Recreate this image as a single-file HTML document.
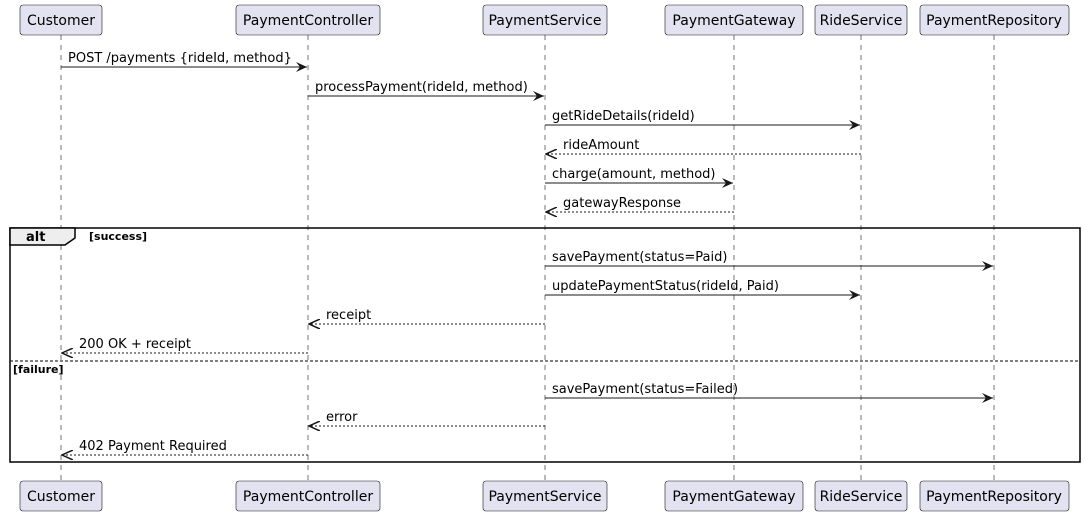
<!DOCTYPE html>
<html><head><style>body{margin:0;background:#fff}svg{display:block}</style></head><body>
<svg width="1086" height="515" xmlns="http://www.w3.org/2000/svg" font-family="DejaVu Sans, sans-serif">
<defs>
<marker id="a" viewBox="0 0 12 10" refX="11" refY="5" markerWidth="12" markerHeight="10" markerUnits="userSpaceOnUse" orient="auto"><path d="M0,0 L11,5 L0,10 L4,5 Z" fill="#181818"/></marker>
<marker id="o" viewBox="0 0 12 10" refX="11" refY="5" markerWidth="12" markerHeight="10" markerUnits="userSpaceOnUse" orient="auto"><path d="M0,0 L11,5 L0,10" fill="none" stroke="#181818" stroke-width="1.5"/></marker>
</defs>
<g stroke="#181818" stroke-width="0.6" stroke-dasharray="5,5">
<line x1="61" y1="35" x2="61" y2="481"/><line x1="308" y1="35" x2="308" y2="481"/><line x1="545" y1="35" x2="545" y2="481"/><line x1="734" y1="35" x2="734" y2="481"/><line x1="861" y1="35" x2="861" y2="481"/><line x1="994" y1="35" x2="994" y2="481"/>
</g>
<g fill="#E2E2F0" stroke="#181818" stroke-width="0.6">
<rect x="20" y="5" width="82" height="30" rx="3"/><rect x="236" y="5" width="144" height="30" rx="3"/><rect x="483" y="5" width="124" height="30" rx="3"/><rect x="665" y="5" width="138" height="30" rx="3"/><rect x="815" y="5" width="92" height="30" rx="3"/><rect x="920" y="5" width="149" height="30" rx="3"/>
<rect x="20" y="481" width="82" height="30" rx="3"/><rect x="236" y="481" width="144" height="30" rx="3"/><rect x="483" y="481" width="124" height="30" rx="3"/><rect x="665" y="481" width="138" height="30" rx="3"/><rect x="815" y="481" width="92" height="30" rx="3"/><rect x="920" y="481" width="149" height="30" rx="3"/>
</g>
<g font-size="14" fill="#000" text-anchor="middle">
<text x="61" y="25">Customer</text><text x="308" y="25">PaymentController</text><text x="545" y="25">PaymentService</text><text x="734" y="25">PaymentGateway</text><text x="861" y="25">RideService</text><text x="994" y="25">PaymentRepository</text>
<text x="61" y="501">Customer</text><text x="308" y="501">PaymentController</text><text x="545" y="501">PaymentService</text><text x="734" y="501">PaymentGateway</text><text x="861" y="501">RideService</text><text x="994" y="501">PaymentRepository</text>
</g>
<rect x="10" y="228" width="1070" height="234" fill="none" stroke="#000" stroke-width="1.5"/>
<path d="M10,228 H75 V238 L65,245 H10 Z" fill="#EEEEEE" stroke="#000" stroke-width="1.5"/>
<text x="26" y="241" font-size="13" font-weight="bold">alt</text>
<text x="89" y="240" font-size="11" font-weight="bold">[success]</text>
<line x1="10" y1="361" x2="1080" y2="361" stroke="#000" stroke-width="1" stroke-dasharray="3,2"/>
<text x="13" y="373" font-size="11" font-weight="bold">[failure]</text>
<g stroke="#181818" stroke-width="1">
<line x1="61" y1="67" x2="307" y2="67" marker-end="url(#a)"/>
<line x1="308" y1="96" x2="544" y2="96" marker-end="url(#a)"/>
<line x1="545" y1="125" x2="860" y2="125" marker-end="url(#a)"/>
<line x1="861" y1="154" x2="546" y2="154" stroke-dasharray="2,2" marker-end="url(#o)"/>
<line x1="545" y1="183" x2="733" y2="183" marker-end="url(#a)"/>
<line x1="734" y1="212" x2="546" y2="212" stroke-dasharray="2,2" marker-end="url(#o)"/>
<line x1="545" y1="266" x2="993" y2="266" marker-end="url(#a)"/>
<line x1="545" y1="295" x2="860" y2="295" marker-end="url(#a)"/>
<line x1="545" y1="324" x2="309" y2="324" stroke-dasharray="2,2" marker-end="url(#o)"/>
<line x1="308" y1="353" x2="62" y2="353" stroke-dasharray="2,2" marker-end="url(#o)"/>
<line x1="545" y1="398" x2="993" y2="398" marker-end="url(#a)"/>
<line x1="545" y1="426" x2="309" y2="426" stroke-dasharray="2,2" marker-end="url(#o)"/>
<line x1="308" y1="455" x2="62" y2="455" stroke-dasharray="2,2" marker-end="url(#o)"/>
</g>
<g font-size="13" fill="#000">
<text x="68" y="62">POST /payments {rideId, method}</text>
<text x="315" y="91">processPayment(rideId, method)</text>
<text x="552" y="120">getRideDetails(rideId)</text>
<text x="563" y="149">rideAmount</text>
<text x="552" y="178">charge(amount, method)</text>
<text x="563" y="207">gatewayResponse</text>
<text x="552" y="261">savePayment(status=Paid)</text>
<text x="552" y="290">updatePaymentStatus(rideId, Paid)</text>
<text x="326" y="319">receipt</text>
<text x="79" y="348">200 OK + receipt</text>
<text x="552" y="393">savePayment(status=Failed)</text>
<text x="326" y="421">error</text>
<text x="79" y="450">402 Payment Required</text>
</g>
</svg>
</body></html>
